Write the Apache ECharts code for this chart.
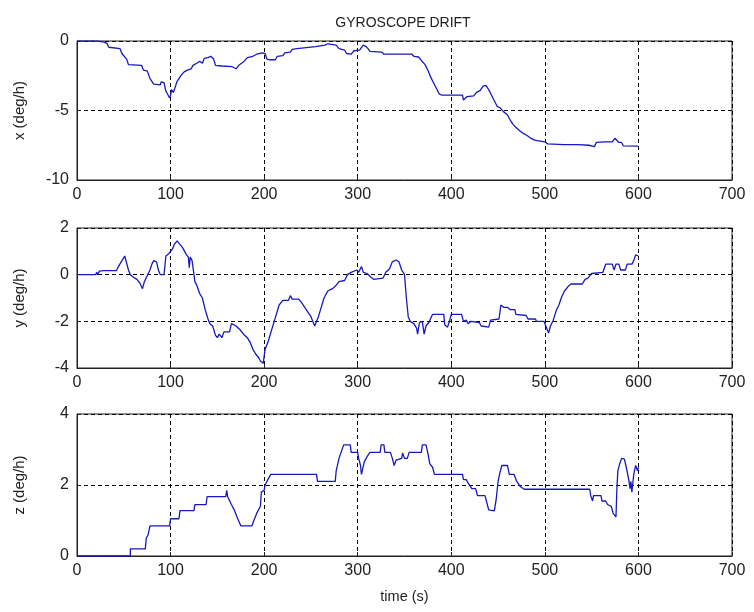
<!DOCTYPE html>
<html>
<head>
<meta charset="utf-8">
<script src="https://cdn.jsdelivr.net/npm/echarts@6/dist/echarts.min.js"></script>
<style>html,body{margin:0;padding:0;background:#fff;}#c{width:754px;height:612px;}</style>
</head>
<body>
<div id="c"></div>
<script>
// ---- data ----
const titleText = 'GYROSCOPE DRIFT';
const xTicks = [0, 100, 200, 300, 400, 500, 600, 700];
const axisNames = ['x (deg/h)', 'y (deg/h)', 'z (deg/h)'];
const xAxisName = 'time (s)';

const xDriftT = [0,21,22,28,29,32,34,46,48,50,53,55,69,71,75,78,82,89,90,93,95,97,99,100,101,103,105,107,110,112,115,118,122,124,128,131,134,136,140,143,146,148,155,166,170,173,178,182,188,192,198,201,203,206,212,214,220,222,228,230,235,237,255,257,265,268,270,277,280,286,288,293,296,302,306,309,311,313,326,328,358,360,365,368,372,375,378,381,384,387,390,412,413,415,417,424,427,431,434,437,440,443,446,449,452,456,460,463,466,469,473,477,481,485,490,492,500,503,520,535,536,537,547,549,553,555,564,566,567,572,573,575,577,579,582,584,600];
const xDriftV = [0,0,-0.07,-0.07,-0.17,-0.17,-0.45,-0.55,-0.9,-0.95,-1.3,-1.7,-1.75,-2.1,-2.15,-2.7,-3.1,-3.15,-2.95,-3.0,-3.6,-3.5,-4.1,-3.9,-3.5,-3.7,-3.3,-2.9,-2.6,-2.4,-2.2,-2.1,-2.0,-1.75,-1.6,-1.45,-1.6,-1.25,-1.2,-1.1,-1.3,-1.75,-1.8,-1.85,-2.0,-1.75,-1.5,-1.2,-1.1,-0.95,-0.85,-0.9,-1.3,-1.35,-1.35,-1.1,-1.05,-0.85,-0.8,-0.6,-0.55,-0.45,-0.4,-0.3,-0.3,-0.2,-0.3,-0.3,-0.55,-0.65,-0.9,-0.95,-0.7,-0.65,-0.3,-0.4,-0.55,-0.75,-0.8,-0.95,-0.95,-1.1,-1.15,-1.4,-1.7,-2.1,-2.6,-3.0,-3.4,-3.8,-3.9,-3.9,-4.25,-4.2,-4.0,-3.95,-3.7,-3.55,-3.25,-3.2,-3.5,-3.9,-4.3,-4.7,-4.8,-5.1,-5.3,-5.7,-6.0,-6.2,-6.45,-6.65,-6.8,-7.0,-7.15,-7.2,-7.25,-7.4,-7.45,-7.45,-7.35,-7.45,-7.5,-7.6,-7.6,-7.3,-7.25,-7.15,-7.25,-7.25,-7.35,-7.0,-6.9,-7.3,-7.3,-7.55,-7.57];

const yDriftT = [0,20,21,22,24,26,28,30,31,42,45,48,51,53,55,57,60,64,67,70,72,75,78,80,82,85,87,89,93,95,98,100,102,104,107,110,113,115,117,119,120,121,123,126,128,130,131,134,137,140,142,145,148,150,152,155,157,163,165,170,174,178,182,185,188,191,194,196,199,201,204,207,210,213,216,220,226,228,230,237,240,245,250,254,256,258,261,264,268,273,276,280,286,289,293,299,301,304,306,310,314,317,327,330,334,337,341,344,347,350,352,354,356,360,363,364,366,369,371,373,376,380,392,393,396,398,400,411,413,416,418,421,430,432,440,442,451,453,456,460,463,468,469,480,482,490,491,499,501,504,506,509,512,515,518,521,525,528,540,543,546,548,550,552,562,565,572,574,576,579,581,586,588,593,595,597,600];
const yDriftV = [0,0,0.1,0.0,0.15,0.1,0.17,0.1,0.17,0.17,0.4,0.6,0.8,0.5,0.2,0.0,-0.1,-0.2,-0.35,-0.6,-0.3,-0.05,0.2,0.45,0.6,0.55,0.2,0.0,0.0,0.8,0.9,1.0,1.1,1.3,1.45,1.3,1.15,1.0,0.85,0.75,0.3,0.75,0.6,-0.3,-0.45,-0.4,-0.8,-1.0,-1.5,-1.9,-2.1,-2.2,-2.6,-2.7,-2.55,-2.7,-2.45,-2.45,-2.1,-2.2,-2.35,-2.55,-2.7,-2.9,-3.2,-3.4,-3.55,-3.7,-3.8,-3.2,-2.9,-2.5,-2.1,-1.7,-1.3,-1.1,-1.1,-0.9,-1.05,-1.05,-1.2,-1.5,-1.8,-2.2,-2.25,-1.8,-1.4,-1.0,-0.7,-0.6,-0.5,-0.3,-0.25,0.0,0.1,0.2,0.1,0.35,0.1,0.05,-0.1,-0.2,-0.15,0.1,0.25,0.55,0.63,0.55,0.2,0.0,-1.0,-1.8,-2.0,-2.1,-2.3,-2.55,-2.05,-2.0,-2.55,-2.2,-2.05,-1.7,-1.7,-2.15,-2.25,-2.0,-1.7,-1.7,-2.0,-1.95,-2.1,-2.0,-2.05,-2.2,-2.25,-1.95,-1.9,-1.3,-1.4,-1.4,-1.5,-1.5,-1.7,-1.75,-1.9,-1.9,-2.0,-2.0,-2.2,-2.5,-2.2,-1.95,-1.55,-1.3,-0.95,-0.7,-0.5,-0.4,-0.4,-0.2,-0.15,-0.05,0.05,0.1,0.1,0.45,0.45,0.2,0.45,0.45,0.2,0.2,0.45,0.45,0.6,0.85,0.8];

const zDriftT = [0,57,57,73,74,76,78,99,100,109,110,125,126,138,139,159,160,161,163,165,168,171,175,187,189,192,196,197,200,201,204,207,256,257,276,277,280,285,292,293,300,301,303,304,307,310,313,324,325,328,329,335,337,339,341,343,347,348,350,353,355,368,369,373,375,377,380,382,412,413,416,418,420,422,426,428,436,438,440,446,448,450,452,454,460,462,467,470,474,478,548,549,551,552,560,561,565,567,571,573,576,577,578,580,582,585,587,590,591,592,593,595,597,599,600];
const zDriftV = [0,0,0.2,0.2,0.5,0.6,0.85,0.85,1.05,1.05,1.28,1.28,1.45,1.45,1.67,1.67,1.85,1.67,1.67,1.45,1.3,1.1,0.85,0.85,1.0,1.2,1.4,1.8,1.85,2.0,2.15,2.3,2.3,2.1,2.1,2.4,2.75,3.13,3.13,2.92,2.92,2.75,2.55,2.3,2.65,2.8,2.92,2.92,3.13,3.13,2.92,2.92,2.75,2.55,2.7,2.75,2.75,2.9,2.75,2.75,2.92,2.92,3.13,3.13,2.9,2.6,2.5,2.3,2.3,2.15,2.15,2.05,2.05,1.9,1.9,1.7,1.7,1.5,1.3,1.27,1.6,2.1,2.35,2.55,2.55,2.3,2.3,2.1,1.95,1.88,1.88,1.7,1.55,1.7,1.7,1.55,1.55,1.45,1.4,1.2,1.1,1.9,2.4,2.6,2.75,2.73,2.5,2.1,1.9,2.1,1.8,2.3,2.55,2.4,2.5];

const yRanges = [[-10, 0, 5], [-4, 2, 2], [0, 4, 2]];

// ---- chart ----
const FONT = '"Liberation Sans", Arial, Helvetica, sans-serif';
const pairs = (t, v) => t.map((x, i) => [x, v[i]]);
const seriesData = [pairs(xDriftT, xDriftV), pairs(yDriftT, yDriftV), pairs(zDriftT, zDriftV)];
const grids = [
  {left: 77, right: 22, top: 41, height: 139},
  {left: 77, right: 22, top: 228, height: 140},
  {left: 77, right: 22, top: 414, height: 142}
].map(g => Object.assign(g, {show: true, borderColor: '#222', borderWidth: 1, backgroundColor: '#fff'}));

const dashed = {show: true, lineStyle: {color: '#000', type: [4, 3], width: 1}};
const xAxes = [0, 1, 2].map(i => ({
  type: 'value', gridIndex: i, min: xTicks[0], max: xTicks[xTicks.length - 1], interval: xTicks[1] - xTicks[0],
  axisLine: {show: true, onZero: false, lineStyle: {color: '#222'}},
  axisTick: {show: true, inside: true, length: 4, lineStyle: {color: '#222'}},
  axisLabel: {color: '#222', fontSize: 16, fontFamily: FONT, margin: 7},
  splitLine: dashed,
  name: i === 2 ? xAxisName : '', nameLocation: 'middle', nameGap: 33,
  nameTextStyle: {color: '#222', fontSize: 14.5, fontFamily: FONT}
}));
const yAxes = [0, 1, 2].map(i => ({
  type: 'value', gridIndex: i, min: yRanges[i][0], max: yRanges[i][1], interval: yRanges[i][2],
  axisLine: {show: true, onZero: false, lineStyle: {color: '#222'}},
  axisTick: {show: true, inside: true, length: 4, lineStyle: {color: '#222'}},
  axisLabel: {color: '#222', fontSize: 16, fontFamily: FONT, margin: 8},
  splitLine: dashed,
  name: axisNames[i], nameLocation: 'middle', nameGap: 50, nameRotate: 90,
  nameTextStyle: {color: '#222', fontSize: 15, fontFamily: FONT}
}));
const series = [0, 1, 2].map(i => ({
  type: 'line', xAxisIndex: i, yAxisIndex: i, data: seriesData[i],
  showSymbol: false, symbol: 'none', lineStyle: {color: '#1818c0', width: 1.3},
  animation: false, silent: true
}));

const chart = echarts.init(document.getElementById('c'), null, {renderer: 'canvas'});
chart.setOption({
  backgroundColor: '#fff',
  animation: false,
  title: {text: titleText, left: 398, top: 11, textAlign: 'center',
    textStyle: {fontSize: 14, fontWeight: 'normal', color: '#222', fontFamily: FONT}},
  grid: grids, xAxis: xAxes, yAxis: yAxes, series: series
});
</script>
</body>
</html>
